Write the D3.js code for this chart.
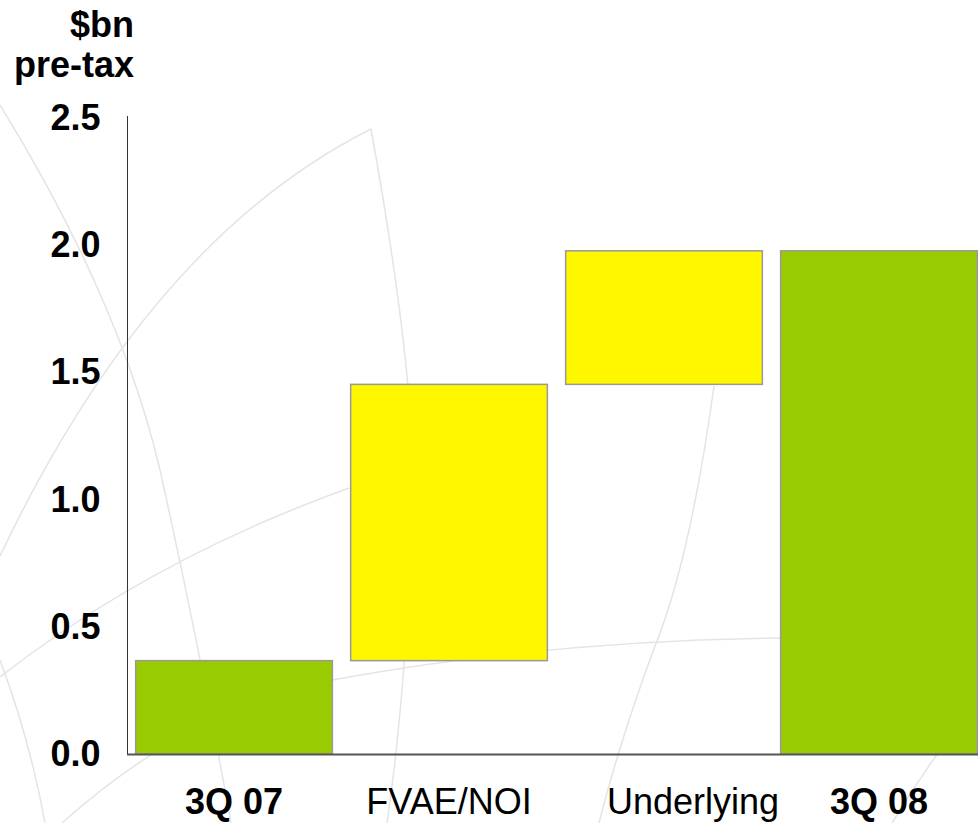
<!DOCTYPE html>
<html>
<head>
<meta charset="utf-8">
<script src="https://cdn.jsdelivr.net/npm/d3@7"></script>
<style>
  html, body { margin: 0; padding: 0; background: #ffffff; overflow: hidden; }
  svg { display: block; font-family: "Liberation Sans", Arial, Helvetica, sans-serif; }
</style>
</head>
<body>
<svg id="chart" width="978" height="823"></svg>
<script>
// ---- data ----
const categories = ["3Q 07", "FVAE/NOI", "Underlying", "3Q 08"];
const values     = [0.367, 1.086, 0.525, 1.978];
const kinds      = ["total", "delta", "delta", "total"];
const yTicks     = [0.0, 0.5, 1.0, 1.5, 2.0, 2.5];
const unitLines  = ["$bn", "pre-tax"];

// ---- layout ----
const W = 978, H = 823;
const svg = d3.select("#chart");

const y = d3.scaleLinear().domain([0, 2.5]).range([754, 118]);
const x = d3.scaleBand().domain(categories)
  .range([126, 987]).paddingInner(0.085).paddingOuter(0.045);

// background decorative arcs (faint)
const bg = svg.append("g").attr("fill", "none").attr("stroke", "#e4e4e4").attr("stroke-width", 1.5);
const arcs = [
  "M0,556 Q150,240 371,129",
  "M371,129 Q420,400 412,525 Q405,700 387,823",
  "M0,105 Q120,300 160,470 Q200,650 231,823",
  "M62,823 Q200,700 349,677 Q560,640 780,638",
  "M714,386 Q690,560 655,646 Q620,740 599,823",
  "M892,823 Q930,760 978,700",
  "M0,677 Q150,560 349,488",
  "M0,660 Q30,740 45,823"
];
bg.selectAll("path").data(arcs).join("path").attr("d", d => d);

// compute waterfall segments
let run = 0;
const segs = categories.map((c, i) => {
  let y0, y1;
  if (kinds[i] === "total") { y0 = 0; y1 = values[i]; run = values[i]; }
  else { y0 = run; y1 = run + values[i]; run = y1; }
  return { c, y0, y1, kind: kinds[i] };
});

// bars
svg.append("g").selectAll("rect").data(segs).join("rect")
  .attr("x", d => x(d.c))
  .attr("width", x.bandwidth())
  .attr("y", d => y(d.y1))
  .attr("height", d => y(d.y0) - y(d.y1))
  .attr("fill", d => d.kind === "total" ? "#99CC00" : "#FFF700")
  .attr("stroke", "#999999")
  .attr("stroke-width", 1.5);

// y axis
const yAxis = d3.axisLeft(y).tickValues(yTicks).tickFormat(d3.format(".1f")).tickSize(0).tickPadding(27);
const gy = svg.append("g").attr("transform", "translate(127.5,0)").call(yAxis);
gy.select(".domain").attr("stroke", "#333").attr("stroke-width", 1).attr("d", "M0,116V754");
gy.selectAll("text")
  .attr("font-family", "'Liberation Sans', Arial, sans-serif")
  .attr("font-size", 36).attr("font-weight", "bold").attr("fill", "#000");

// x axis
const xAxis = d3.axisBottom(x).tickSize(0).tickPadding(34);
const gx = svg.append("g").attr("transform", "translate(0,754.5)").call(xAxis);
gx.select(".domain").attr("stroke", "#555").attr("stroke-width", 2).attr("d", "M127,0H978");
gx.selectAll("text")
  .attr("font-family", "'Liberation Sans', Arial, sans-serif")
  .attr("font-size", 36)
  .attr("font-weight", (d, i) => kinds[i] === "total" ? "bold" : "normal")
  .attr("dx", d => d === "Underlying" ? 29 : 0)
  .attr("fill", "#000");

// unit label
svg.append("g").selectAll("text").data(unitLines).join("text")
  .attr("x", 134)
  .attr("y", (d, i) => 37 + i * 40)
  .attr("text-anchor", "end")
  .attr("font-size", 36).attr("font-weight", "bold").attr("fill", "#000")
  .text(d => d);
</script>
</body>
</html>
